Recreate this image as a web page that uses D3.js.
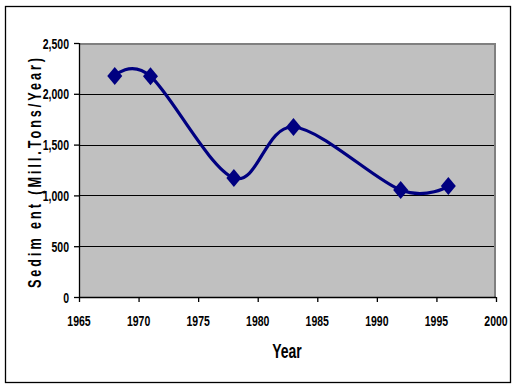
<!DOCTYPE html>
<html><head><meta charset="utf-8">
<script src="https://cdn.jsdelivr.net/npm/d3@7"></script>
<style>body{margin:0;background:#fff}svg{display:block}</style>
</head><body>
<script>
const years = [1968, 1971, 1978, 1983, 1992, 1996];
const sediment = [2175, 2172, 1172, 1673, 1053, 1092];
const xTicks = [1965, 1970, 1975, 1980, 1985, 1990, 1995, 2000];
const yTicks = [0, 500, 1000, 1500, 2000, 2500];

const W = 517, H = 390;
const L = 79, R = 496, T = 43, B = 297;
const SX = 0.7;
const FONT = "'Liberation Sans', Arial, sans-serif";
const svg = d3.select("body").append("svg").attr("width", W).attr("height", H);
svg.append("rect").attr("x", 5.5).attr("y", 6.5).attr("width", 505).attr("height", 376)
  .attr("fill", "#fff").attr("stroke", "#000").attr("stroke-width", 1.3);

const x = d3.scaleLinear().domain([1965, 2000]).range([L, R]);
const y = d3.scaleLinear().domain([0, 2500]).range([B, T]);

svg.append("rect").attr("x", L).attr("y", T).attr("width", R - L).attr("height", B - T).attr("fill", "#C0C0C0");
svg.append("g").selectAll("line").data(yTicks.filter(d => d > 0 && d < 2500)).join("line")
  .attr("x1", L).attr("x2", R).attr("y1", d => Math.round(y(d)) + 0.5).attr("y2", d => Math.round(y(d)) + 0.5)
  .attr("stroke", "#000").attr("stroke-width", 1);
svg.append("path").attr("d", `M${L},${T + 1}H${R - 1}V${B}`).attr("fill", "none").attr("stroke", "#808080").attr("stroke-width", 2);

const yAxis = svg.append("g").attr("transform", `translate(${L},0)`)
  .call(d3.axisLeft(y).tickValues(yTicks).tickSize(5).tickFormat(""));
const xAxis = svg.append("g").attr("transform", `translate(0,${B})`)
  .call(d3.axisBottom(x).tickValues(xTicks).tickSize(5).tickFormat(""));
[yAxis, xAxis].forEach(a => {
  a.select(".domain").attr("stroke", "#000").attr("stroke-width", 1.3);
  a.selectAll(".tick line").attr("stroke", "#000").attr("stroke-width", 1.3);
});
yAxis.select(".domain").attr("d", `M0.5,${T}V${B}`);
xAxis.select(".domain").attr("d", `M${L},0.5H${R}`);

function label(px, py, txt, anchor, size) {
  svg.append("g").attr("transform", `translate(${px},${py}) scale(${SX},1)`)
    .append("text").attr("text-anchor", anchor)
    .style("font-family", FONT).style("font-size", size + "px").style("font-weight", "bold")
    .attr("fill", "#000").text(txt);
}
const fmt = d3.format(",");
yTicks.forEach(v => label(69, y(v) + 5.5, fmt(v), "end", 15));
xTicks.forEach(v => label(x(v), 325.5, String(v), "middle", 15));

const pts = years.map((d, i) => [x(d), y(sediment[i])]);
svg.append("path").attr("d", d3.line().curve(d3.curveCardinal.tension(0))(pts))
  .attr("fill", "none").attr("stroke", "#000080").attr("stroke-width", 3.2);
svg.append("g").selectAll("path").data(pts).join("path")
  .attr("d", d => `M${d[0]},${d[1] - 9}L${d[0] + 7.5},${d[1]}L${d[0]},${d[1] + 9}L${d[0] - 7.5},${d[1]}Z`)
  .attr("fill", "#000080");

label(287, 358, "Year", "middle", 20);
svg.append("g").attr("transform", `translate(41,173) rotate(-90) scale(${SX},1)`)
  .append("text").attr("text-anchor", "middle")
  .style("font-family", FONT).style("font-size", "18px").style("font-weight", "bold")
  .attr("textLength", 230 / SX).attr("lengthAdjust", "spacing")
  .text("Sedim ent (Mill.Tons/Year)");
</script>
</body></html>
